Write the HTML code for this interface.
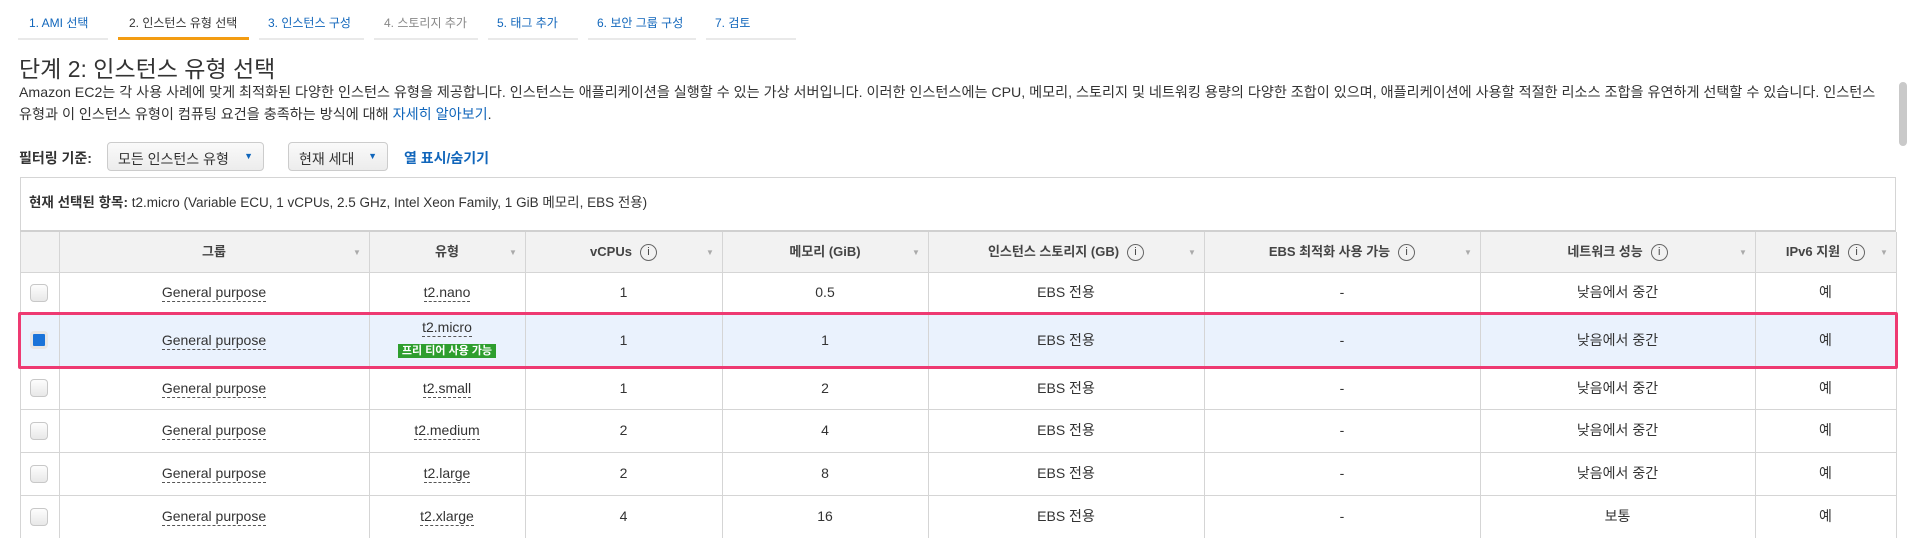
<!DOCTYPE html>
<html><head><meta charset="utf-8">
<style>
*{box-sizing:border-box;margin:0;padding:0}
body{width:1914px;height:536px;overflow:hidden;background:#fff;font-family:"Liberation Sans","Noto Sans CJK KR",sans-serif;color:#333;position:relative}
.abs{position:absolute;white-space:nowrap}
.tab{position:absolute;top:14px;font-size:12px;color:#1166bb}
.tab.dis{color:#888}
.tab.act{color:#333}
.ul{position:absolute;top:38px;height:2px;background:#e9e9e9}
.ul.act{background:#f39c12;height:3px;top:37px}
.sel{position:absolute;top:142px;height:29px;border:1px solid #ccc;border-radius:4px;background:linear-gradient(#fafafa,#ececec);font-size:14px;padding:6px 10px;color:#333}
.sel .car{position:absolute;right:10px;top:8px;color:#1166bb;font-size:9px}
.vl{position:absolute;top:232px;width:1px;height:306px;background:#d5d5d5}
.hl{position:absolute;left:20px;width:1876px;height:1px;background:#d5d5d5}
.cell{position:absolute;text-align:center;font-size:14px;color:#333;white-space:nowrap}
.hd{font-weight:bold;font-size:13px;color:#444}
.gp{border-bottom:1px dashed #555;padding-bottom:1px}
.cb{position:absolute;left:30px;width:18px;height:18px;border:1px solid #c8c8c8;border-radius:4px;background:linear-gradient(#fdfdfd,#e8e8e8)}
.info{display:inline-block;width:17px;height:17px;border:1px solid #666;border-radius:50%;font-size:11px;line-height:15px;text-align:center;font-weight:normal;margin-left:8px;vertical-align:middle}
.tri{position:absolute;top:248px;font-size:8px;color:#aaa}
</style></head><body>
<div class="tab" style="left:29px">1. AMI 선택</div>
<div class="tab act" style="left:129px">2. 인스턴스 유형 선택</div>
<div class="tab" style="left:268px">3. 인스턴스 구성</div>
<div class="tab dis" style="left:384px">4. 스토리지 추가</div>
<div class="tab" style="left:497px">5. 태그 추가</div>
<div class="tab" style="left:597px">6. 보안 그룹 구성</div>
<div class="tab" style="left:715px">7. 검토</div>
<div class="ul" style="left:18px;width:90px"></div>
<div class="ul act" style="left:118px;width:131px"></div>
<div class="ul" style="left:259px;width:105px"></div>
<div class="ul" style="left:374px;width:104px"></div>
<div class="ul" style="left:488px;width:90px"></div>
<div class="ul" style="left:588px;width:108px"></div>
<div class="ul" style="left:706px;width:90px"></div>

<div class="abs" style="left:19px;top:57px;font-size:23px;line-height:24px;color:#333">단계 2: 인스턴스 유형 선택</div>
<div class="abs" style="left:19px;top:82px;font-size:14.15px;line-height:21.5px;color:#333">Amazon EC2는 각 사용 사례에 맞게 최적화된 다양한 인스턴스 유형을 제공합니다. 인스턴스는 애플리케이션을 실행할 수 있는 가상 서버입니다. 이러한 인스턴스에는 CPU, 메모리, 스토리지 및 네트워킹 용량의 다양한 조합이 있으며, 애플리케이션에 사용할 적절한 리소스 조합을 유연하게 선택할 수 있습니다. 인스턴스<br>유형과 이 인스턴스 유형이 컴퓨팅 요건을 충족하는 방식에 대해 <span style="color:#1166bb">자세히 알아보기</span>.</div>

<div class="abs" style="left:19px;top:148px;font-size:14px;font-weight:bold;color:#333">필터링 기준:</div>
<div class="sel" style="left:107px;width:157px">모든 인스턴스 유형<span class="car">&#9660;</span></div>
<div class="sel" style="left:288px;width:100px">현재 세대<span class="car">&#9660;</span></div>
<div class="abs" style="left:404px;top:148px;font-size:14px;font-weight:bold;color:#1166bb">열 표시/숨기기</div>

<div class="abs" style="left:20px;top:177px;width:1876px;height:55px;border:1px solid #d5d5d5;border-bottom:none"></div>
<div class="abs" style="left:29px;top:191px;font-size:13.5px;color:#333"><b>현재 선택된 항목:</b> t2.micro (Variable ECU, 1 vCPUs, 2.5 GHz, Intel Xeon Family, 1 GiB 메모리, EBS 전용)</div>

<div class="abs" style="left:20px;top:230px;width:1876px;height:42px;background:#f2f2f2;border-top:2px solid #d0d0d0"></div>
<div class="abs" style="left:20px;top:313px;width:1876px;height:54px;background:#eaf2fd"></div>

<div class="vl" style="left:20px"></div><div class="vl" style="left:59px"></div><div class="vl" style="left:369px"></div><div class="vl" style="left:525px"></div><div class="vl" style="left:722px"></div><div class="vl" style="left:928px"></div><div class="vl" style="left:1204px"></div><div class="vl" style="left:1480px"></div><div class="vl" style="left:1755px"></div><div class="vl" style="left:1896px"></div>
<div class="hl" style="top:272px"></div><div class="hl" style="top:313px"></div><div class="hl" style="top:367px"></div><div class="hl" style="top:409px"></div><div class="hl" style="top:452px"></div><div class="hl" style="top:495px"></div>

<div class="abs" style="left:18px;top:312px;width:1880px;height:57px;border:3px solid #ee3a72;border-radius:2px"></div>

<div id="tbl"></div>
<div class="abs" style="left:1899px;top:82px;width:8px;height:64px;background:#c9c9c9;border-radius:4px"></div>
<script>
const cols=[[59,369],[369,525],[525,722],[722,928],[928,1204],[1204,1480],[1480,1755],[1755,1896]];
const heads=[['그룹',0],['유형',0],['vCPUs',1],['메모리 (GiB)',0],['인스턴스 스토리지 (GB)',1],['EBS 최적화 사용 가능',1],['네트워크 성능',1],['IPv6 지원',1]];
const types=['t2.nano','t2.micro','t2.small','t2.medium','t2.large','t2.xlarge'];
const vcpus=['1','1','1','2','2','4'];
const mem=['0.5','1','2','4','8','16'];
const net=['낮음에서 중간','낮음에서 중간','낮음에서 중간','낮음에서 중간','낮음에서 중간','보통'];
const rows=[[272,313],[313,367],[367,409],[409,452],[452,495],[495,538]];
const T=document.getElementById('tbl');
function cell(c,y,h,html,cls){const d=document.createElement('div');d.className='cell '+(cls||'');d.style.left=cols[c][0]+'px';d.style.width=(cols[c][1]-cols[c][0])+'px';d.style.top=y+'px';d.style.lineHeight=h+'px';d.innerHTML=html;T.appendChild(d);return d;}
heads.forEach((h,i)=>{const d=cell(i,232,40,h[0]+(h[1]?'<span class="info">i</span>':''),'hd');


const t=document.createElement('div');t.className='tri';t.style.left=(cols[i][1]-16)+'px';t.innerHTML='&#9660;';T.appendChild(t);

});
rows.forEach((r,i)=>{const y=r[0],h=r[1]-r[0];const cy=y+h/2;
const cb=document.createElement('div');cb.className='cb';cb.style.top=(cy-9)+'px';
if(i===1){cb.style.background='#1a73d9';cb.style.border='3px solid #e6e6e6';}


T.appendChild(cb);
let c;
c=cell(0,y,h,'<span class="gp">General purpose</span>');
if(i===1){c=cell(1,y+4,20,'<span class="gp">t2.micro</span>');
const b=cell(1,y+28,17,'<span style="background:#2e9e2e;color:#fff;font-size:11px;padding:1px 4px;font-weight:bold">프리 티어 사용 가능</span>');
}
else c=cell(1,y,h,'<span class="gp">'+types[i]+'</span>');

c=cell(2,y,h,vcpus[i]);
c=cell(3,y,h,mem[i]);
c=cell(4,y,h,'EBS 전용');
c=cell(5,y,h,'-');
c=cell(6,y,h,net[i]);
c=cell(7,y,h,'예');
});
</script>
</body></html>
